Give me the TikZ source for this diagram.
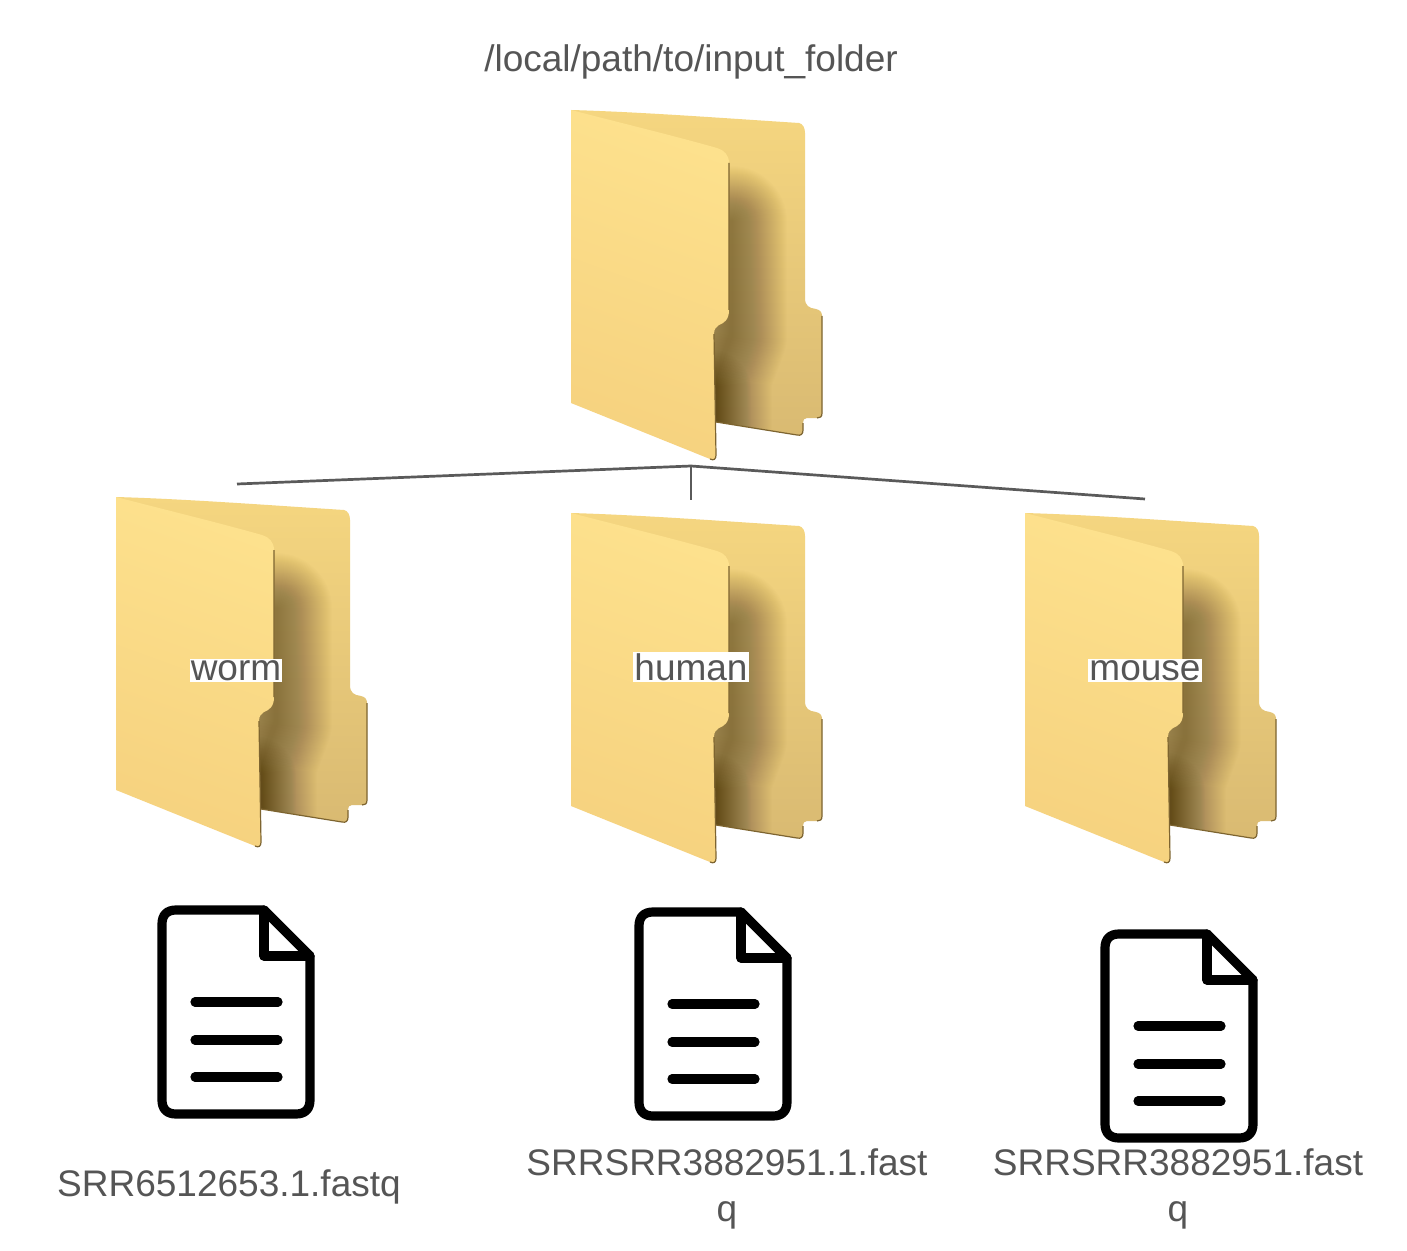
\documentclass[tikz,border=0pt]{standalone}
\usepackage{fontspec}
\setmainfont{Liberation Sans}
\usepackage{tikz}
\usetikzlibrary{positioning}

\definecolor{labelgray}{HTML}{555555}
\definecolor{linegray}{HTML}{5A5A5A}
\definecolor{foldertop}{HTML}{FDE18D}
\definecolor{folderlow}{HTML}{F6D27F}
\definecolor{backtop}{HTML}{F5D680}
\definecolor{backlow}{HTML}{D9BA72}
\definecolor{folderedge}{HTML}{7D6430}
\definecolor{foldershadow}{HTML}{4A3A1A}

\begin{document}
\begin{tikzpicture}[x=0.5pt, y=-0.5pt]

    % Define styles
    \tikzstyle{label} = [text=labelgray, font=\fontsize{18.5}{23}\selectfont, inner sep=0.6pt]
    \tikzstyle{tag} = [label, fill=white, anchor=base]
    \tikzstyle{filename} = [label, align=center]
    \tikzstyle{line} = [draw=linegray, line width=1.35pt]
    \tikzstyle{ink} = [draw=black, line width=4.6pt, line join=round, line cap=round]

    % Define icons
    \tikzset{
        folder/.pic={
            \path [top color=backtop, bottom color=backlow]
                (0,0) .. controls (70,2) and (150,8) .. (228,13)
                .. controls (232,14) and (234,18) .. (234,23) -- (234,188)
                .. controls (234,196) and (238,198) .. (245,199)
                .. controls (249,200) and (251,202) .. (251,206) -- (251,303)
                .. controls (251,307) and (249,308) .. (246,308) -- (236,308)
                .. controls (233,308) and (232,310) .. (232,313) -- (232,320)
                .. controls (232,324) and (230,326) .. (226,325)
                -- (145,312) -- (100,150) -- cycle;
            \begin{scope}
                \clip (0,0) -- (228,13) -- (234,23) -- (234,188) -- (245,199) -- (251,206) -- (251,303)
                    -- (246,308) -- (232,310) -- (232,325) -- (145,312) -- (100,150) -- cycle;
                \foreach \w in {112,110,...,4} {
                    \draw [foldershadow, opacity=0.012, line width=\w*0.5pt, line cap=round, line join=round]
                        (160,112) -- (160,225) -- (145,265) -- (145,345);
                }
                \foreach \w in {80,78,...,4} {
                    \draw [foldershadow, opacity=0.012, line width=\w*0.5pt, line cap=round]
                        (140,280) -- (140,345);
                }
            \end{scope}
            \path [top color=foldertop, bottom color=folderlow, shading angle=-20]
                (0,0) .. controls (50,13) and (100,25) .. (146,38)
                .. controls (153,40) and (158,45) .. (158,53) -- (158,200)
                .. controls (158,210) and (153,213) .. (148,215)
                .. controls (145,217) and (143,219) .. (143,224) -- (145,345)
                .. controls (145,349) and (143,351) .. (139,349)
                -- (0,293) -- cycle;
            \draw [folderedge, line width=0.6pt]
                (158,53) -- (158,200)
                (143,224) -- (145,345) .. controls (145,349) and (143,351) .. (139,349)
                (251,206) -- (251,303) .. controls (251,307) and (249,308) .. (246,308)
                (232,313) -- (232,320) .. controls (232,324) and (230,326) .. (226,325) -- (145,312);
        },
        document/.pic={
            \draw [ink]
                (19,5) -- (107,5) -- (153,51) -- (153,195)
                .. controls (153,204) and (148,209) .. (139,209) -- (19,209)
                .. controls (10,209) and (5,204) .. (5,195) -- (5,19)
                .. controls (5,10) and (10,5) .. (19,5) -- cycle;
            \draw [ink] (107,5) -- (107,51) -- (153,51);
            \foreach \ypos in {97,135,172} {
                \draw [ink] (38,\ypos) -- (121,\ypos);
            }
        }
    }

    % Fix the page
    \useasboundingbox [fill=white] (0,0) rectangle (1407,1251);

    % Place folders
    \pic at (571,110) {folder};
    \pic at (116,497) {folder};
    \pic at (571,513) {folder};
    \pic at (1025,513) {folder};

    % Place nodes
    \node [label] (inputfolder) at (691,62) {/local/path/to/input\_folder};
    \node [tag] (worm) at (236,680) {worm};
    \node [tag] (human) at (691,680) {human};
    \node [tag] (mouse) at (1145,680) {mouse};

    % Place files
    \pic at (157,905) {document};
    \pic at (634,907) {document};
    \pic at (1100,929) {document};
    \node [filename] (wormfile) at (229,1187) {SRR6512653.1.fastq};
    \node [filename] (humanfile) at (727,1189) {SRRSRR3882951.1.fast\\q};
    \node [filename] (mousefile) at (1178,1189) {SRRSRR3882951.fast\\q};

    % Draw edges
    \coordinate (branch) at (691,466);
    \coordinate (wormend) at (237,484);
    \coordinate (humanend) at (691,500);
    \coordinate (mouseend) at (1145,499);
    \path [line] (branch) -- (wormend);
    \path [line] (branch) -- (humanend);
    \path [line] (branch) -- (mouseend);

\end{tikzpicture}
\end{document}
